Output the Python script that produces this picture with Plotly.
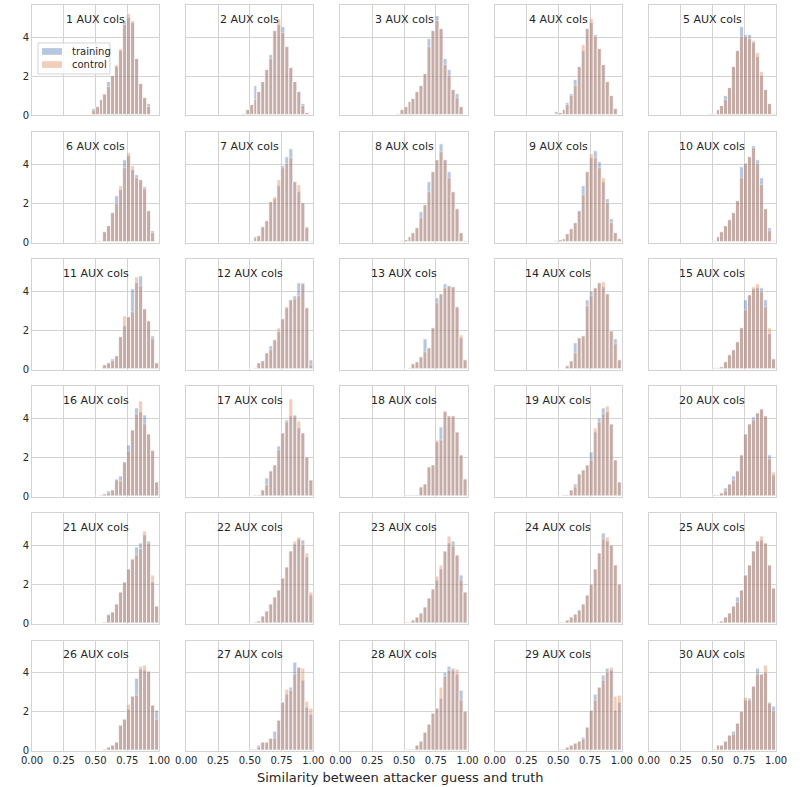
import numpy as np
import plotly.graph_objects as go
from plotly.subplots import make_subplots

# Histogram bins (density) shared by every panel: 20 bins of width 1/32 from 0.375 to 1.0
BIN_EDGES = np.linspace(0.375, 1.0, 21)

AUX_COLS = list(range(1, 31))

# Density per bin for the "training" split, one row per number of AUX columns
TRAINING = [
    [0, 0, 0.03, 0.35, 0.45, 0.8, 1.05, 1.7, 2.0, 2.5, 3.3, 4.8, 5.0, 4.7, 2.9, 1.6, 0.9, 0.6, 0, 0],
    [0, 0, 0.1, 0.3, 0.55, 1.5, 1.2, 1.7, 2.3, 3.1, 4.3, 4.6, 4.5, 3.5, 2.4, 1.7, 1.2, 0.6, 0.15, 0],
    [0, 0, 0.1, 0.3, 0.45, 0.7, 0.85, 1.2, 1.5, 2.1, 3.9, 4.3, 5.1, 4.4, 2.9, 2.3, 1.3, 1.1, 0.45, 0],
    [0, 0, 0, 0.2, 0.15, 0.3, 0.65, 1.1, 1.8, 2.5, 3.3, 4.4, 4.7, 4.1, 3.4, 2.6, 1.7, 1.0, 0.35, 0],
    [0, 0, 0.03, 0.05, 0.1, 0.3, 0.5, 1.0, 1.4, 2.5, 3.3, 4.5, 4.1, 4.1, 3.7, 3.0, 2.0, 1.3, 0.6, 0.1],
    [0, 0, 0, 0, 0.1, 0.1, 0.55, 0.85, 1.5, 2.35, 2.7, 4.2, 4.4, 3.7, 3.45, 3.2, 2.85, 1.6, 0.6, 0],
    [0, 0, 0, 0, 0.1, 0.3, 0.35, 0.8, 1.1, 2.05, 2.2, 2.9, 3.9, 4.35, 4.75, 3.1, 2.6, 2.0, 0.8, 0.1],
    [0, 0, 0, 0.05, 0.15, 0.3, 0.5, 0.75, 1.55, 1.9, 3.1, 3.6, 4.2, 5.05, 4.2, 3.6, 2.6, 1.7, 0.5, 0.1],
    [0, 0, 0, 0.05, 0.15, 0.2, 0.45, 0.7, 1.0, 1.6, 2.9, 3.6, 4.3, 4.65, 4.1, 3.1, 2.2, 1.2, 0.5, 0.2],
    [0, 0, 0, 0, 0.1, 0.3, 0.55, 0.85, 1.15, 1.5, 2.1, 3.85, 4.0, 4.35, 4.95, 4.2, 3.3, 1.7, 0.75, 0.1],
    [0, 0, 0, 0, 0, 0, 0.25, 0.35, 0.55, 0.7, 1.65, 2.2, 2.7, 4.1, 4.4, 4.75, 3.1, 2.5, 1.7, 0.35],
    [0, 0, 0, 0, 0, 0.05, 0.35, 0.45, 0.85, 1.2, 1.5, 1.9, 2.6, 3.15, 3.55, 3.75, 4.4, 4.4, 3.15, 0.5],
    [0, 0, 0, 0, 0, 0.1, 0.3, 0.4, 0.65, 1.55, 1.1, 2.1, 3.65, 3.85, 4.35, 4.25, 4.2, 3.2, 1.6, 0.5],
    [0, 0, 0, 0, 0, 0, 0.2, 0.45, 1.35, 1.6, 1.7, 3.55, 4.0, 4.15, 4.4, 4.2, 3.85, 1.95, 1.55, 0.5],
    [0, 0, 0, 0, 0.05, 0.05, 0.15, 0.4, 0.75, 1.0, 1.4, 2.1, 3.55, 3.8, 4.1, 4.15, 4.15, 3.55, 1.8, 0.55],
    [0, 0, 0, 0, 0.03, 0.05, 0.15, 0.3, 0.35, 0.85, 1.05, 1.75, 2.65, 3.4, 4.5, 4.3, 4.15, 3.2, 2.3, 0.75],
    [0, 0, 0, 0, 0, 0.1, 0.1, 0.35, 0.95, 1.3, 1.6, 2.6, 3.25, 3.9, 4.1, 4.15, 3.5, 3.25, 2.0, 0.85],
    [0, 0, 0, 0, 0.05, 0.05, 0.05, 0.05, 0.5, 0.65, 1.5, 1.6, 2.8, 3.55, 4.3, 4.1, 4.1, 3.3, 2.1, 0.9],
    [0, 0, 0, 0.02, 0.02, 0.05, 0.1, 0.35, 0.65, 1.15, 1.35, 1.6, 2.25, 3.3, 4.0, 4.5, 4.3, 3.7, 1.85, 0.75],
    [0, 0, 0.03, 0.03, 0.05, 0.05, 0.2, 0.45, 0.65, 1.05, 1.3, 2.1, 3.2, 3.7, 4.05, 4.25, 4.45, 4.1, 2.1, 1.1],
    [0, 0, 0, 0, 0, 0, 0.1, 0.5, 0.6, 1.0, 1.6, 2.1, 2.8, 3.3, 3.9, 4.1, 4.5, 4.2, 2.1, 0.9],
    [0, 0, 0, 0, 0, 0.05, 0.15, 0.4, 0.65, 1.0, 1.35, 1.7, 2.3, 2.9, 3.7, 4.05, 4.3, 4.25, 3.4, 1.45],
    [0, 0, 0, 0, 0.05, 0.1, 0.2, 0.35, 0.55, 0.85, 1.3, 1.75, 2.2, 2.8, 3.7, 4.1, 4.2, 3.5, 2.5, 1.6],
    [0, 0, 0, 0.03, 0.05, 0.1, 0.2, 0.35, 0.5, 0.7, 1.0, 1.45, 2.0, 2.8, 3.6, 4.6, 4.2, 4.0, 3.0, 2.0],
    [0, 0, 0, 0, 0, 0.05, 0.15, 0.35, 0.55, 0.9, 1.35, 1.7, 2.5, 3.0, 3.7, 4.2, 4.25, 4.1, 3.0, 1.8],
    [0, 0, 0, 0, 0, 0.02, 0.1, 0.2, 0.3, 0.45, 1.3, 1.6, 2.1, 2.8, 3.7, 4.15, 4.1, 4.05, 2.3, 2.05],
    [0, 0, 0, 0, 0.05, 0.1, 0.3, 0.45, 0.45, 0.65, 1.0, 1.55, 2.45, 2.9, 3.25, 4.5, 4.25, 3.6, 2.2, 1.85],
    [0, 0, 0, 0, 0.1, 0.05, 0.1, 0.3, 0.5, 0.95, 1.35, 1.9, 2.15, 2.7, 4.0, 4.3, 4.2, 3.9, 3.1, 2.0],
    [0, 0, 0.02, 0.02, 0.05, 0.1, 0.2, 0.3, 0.4, 0.5, 0.7, 1.2, 2.05, 2.9, 3.25, 3.85, 4.2, 4.1, 2.05, 2.45],
    [0, 0, 0, 0, 0.1, 0.3, 0.3, 0.5, 0.8, 1.0, 1.4, 2.0, 2.6, 2.7, 3.3, 4.2, 3.9, 4.0, 2.45, 2.25],
]

# Density per bin for the "control" split
CONTROL = [
    [0, 0, 0.05, 0.25, 0.45, 0.8, 1.1, 1.45, 2.0, 2.6, 3.4, 4.6, 5.2, 4.8, 2.9, 1.6, 0.9, 0.45, 0, 0],
    [0, 0, 0.1, 0.3, 0.55, 0.8, 1.2, 1.7, 2.3, 2.9, 4.3, 4.9, 4.2, 3.5, 2.4, 1.7, 1.2, 0.5, 0.15, 0],
    [0, 0, 0.1, 0.3, 0.45, 0.7, 0.85, 1.2, 1.5, 2.1, 3.5, 4.3, 4.8, 4.4, 2.6, 2.0, 1.3, 0.9, 0.45, 0],
    [0, 0, 0, 0.1, 0.15, 0.3, 0.55, 1.0, 1.5, 2.5, 3.6, 4.4, 4.9, 4.0, 3.4, 2.6, 1.7, 1.0, 0.35, 0],
    [0, 0, 0.03, 0.05, 0.1, 0.3, 0.5, 0.8, 1.4, 2.5, 3.3, 4.0, 4.0, 3.9, 3.8, 3.2, 2.2, 1.3, 0.6, 0.1],
    [0, 0, 0, 0, 0.1, 0.1, 0.55, 0.85, 1.5, 1.95, 2.9, 3.8, 4.55, 3.9, 3.3, 3.2, 2.75, 1.6, 0.5, 0],
    [0, 0, 0, 0, 0.1, 0.25, 0.35, 0.8, 1.1, 2.05, 2.3, 3.2, 3.8, 4.0, 4.3, 3.1, 2.95, 2.0, 0.75, 0.1],
    [0, 0, 0, 0.05, 0.15, 0.3, 0.5, 0.75, 1.25, 1.9, 2.6, 3.6, 4.2, 4.6, 4.2, 3.3, 2.6, 1.7, 0.5, 0.1],
    [0, 0, 0, 0.05, 0.15, 0.2, 0.45, 0.7, 1.0, 1.6, 2.4, 3.6, 4.5, 4.3, 3.8, 3.3, 2.0, 1.0, 0.5, 0.2],
    [0, 0, 0, 0, 0.1, 0.3, 0.55, 0.85, 1.15, 1.5, 2.1, 3.3, 4.05, 4.35, 4.8, 4.0, 2.95, 1.7, 0.6, 0.1],
    [0, 0, 0, 0, 0, 0, 0.25, 0.35, 0.45, 0.7, 1.65, 2.75, 2.7, 2.95, 4.7, 4.25, 3.1, 2.45, 1.55, 0.35],
    [0, 0, 0, 0, 0, 0.05, 0.35, 0.45, 0.85, 1.0, 1.5, 2.1, 2.6, 3.2, 3.55, 3.6, 3.75, 4.35, 3.15, 0.25],
    [0, 0, 0, 0, 0, 0.1, 0.3, 0.4, 0.65, 0.9, 1.1, 2.1, 3.4, 3.85, 4.15, 4.25, 4.2, 3.2, 1.75, 0.5],
    [0, 0, 0, 0, 0, 0, 0.2, 0.45, 0.85, 1.6, 1.7, 3.25, 3.75, 4.15, 4.4, 4.45, 3.85, 1.95, 1.3, 0.5],
    [0, 0, 0, 0, 0.05, 0.05, 0.15, 0.4, 0.75, 1.0, 1.4, 2.1, 3.05, 3.8, 4.2, 4.35, 3.95, 3.2, 2.1, 0.55],
    [0, 0, 0, 0, 0.03, 0.05, 0.15, 0.2, 0.35, 0.9, 0.8, 1.75, 2.3, 3.4, 4.2, 4.85, 3.7, 3.2, 2.35, 0.75],
    [0, 0, 0, 0, 0, 0.1, 0.1, 0.35, 0.6, 1.3, 1.6, 2.35, 3.25, 3.8, 5.0, 4.1, 3.85, 3.25, 2.0, 0.85],
    [0, 0, 0, 0, 0.05, 0.05, 0.05, 0.05, 0.5, 0.65, 1.5, 1.6, 2.9, 2.9, 4.35, 4.1, 4.1, 3.3, 2.1, 0.9],
    [0, 0, 0, 0.02, 0.02, 0.05, 0.1, 0.35, 0.5, 1.15, 1.35, 1.6, 1.85, 3.5, 3.8, 4.2, 4.6, 3.7, 1.85, 0.75],
    [0, 0, 0.03, 0.03, 0.05, 0.05, 0.2, 0.3, 0.65, 0.85, 1.3, 2.1, 3.2, 3.7, 3.9, 4.25, 4.45, 4.1, 1.9, 1.25],
    [0, 0, 0, 0, 0, 0, 0.1, 0.45, 0.6, 1.0, 1.6, 2.1, 2.8, 3.3, 3.5, 3.8, 4.7, 4.1, 2.5, 0.9],
    [0, 0, 0, 0, 0, 0.05, 0.15, 0.4, 0.65, 1.0, 1.35, 1.7, 2.3, 2.9, 3.7, 4.2, 4.4, 4.0, 3.6, 1.6],
    [0, 0, 0, 0, 0.05, 0.1, 0.2, 0.35, 0.55, 0.85, 1.3, 1.75, 2.4, 3.0, 3.7, 4.45, 3.95, 3.5, 2.2, 1.6],
    [0, 0, 0, 0.03, 0.05, 0.1, 0.2, 0.35, 0.5, 0.7, 1.0, 1.45, 2.0, 2.8, 3.6, 4.3, 4.4, 4.0, 3.0, 2.0],
    [0, 0, 0, 0, 0, 0.05, 0.15, 0.35, 0.55, 0.9, 1.1, 1.7, 2.5, 3.0, 3.7, 4.2, 4.45, 4.1, 3.0, 1.8],
    [0, 0, 0, 0, 0, 0.02, 0.05, 0.2, 0.3, 0.45, 1.3, 1.6, 2.35, 2.8, 2.85, 4.3, 4.35, 4.05, 2.3, 1.6],
    [0, 0, 0, 0, 0.05, 0.1, 0.2, 0.45, 0.45, 0.65, 0.65, 1.55, 2.45, 3.15, 3.1, 3.9, 4.25, 4.2, 2.55, 2.15],
    [0, 0, 0, 0, 0.02, 0.05, 0.1, 0.3, 0.5, 0.95, 1.35, 1.9, 2.15, 3.25, 3.8, 4.1, 4.1, 4.15, 2.6, 2.0],
    [0, 0, 0.02, 0.02, 0.05, 0.1, 0.2, 0.3, 0.4, 0.5, 0.6, 1.2, 2.05, 2.6, 3.25, 3.6, 4.0, 4.25, 2.8, 2.85],
    [0, 0, 0, 0, 0.1, 0.3, 0.3, 0.5, 0.8, 0.85, 1.4, 2.0, 2.75, 2.6, 3.3, 3.9, 3.9, 4.35, 2.4, 2.0],
]

SERIES_NAMES = ["training", "control"]

X_TICKS = [0.0, 0.25, 0.5, 0.75, 1.0]
X_TICK_TEXT = ["0.00", "0.25", "0.50", "0.75", "1.00"]
Y_TICKS = [0, 2, 4]

BLUE = "#4C72B0"
ORANGE = "#DD8452"
GRID = "#d3d3d3"
TEXT = "#262626"
FONT = "DejaVu Sans"
ALPHA = 0.4

N_ROWS, N_COLS = 6, 5

fig = make_subplots(
    rows=N_ROWS, cols=N_COLS,
    shared_xaxes=True, shared_yaxes=True,
    horizontal_spacing=0.0365, vertical_spacing=0.0223,
)

centers = (BIN_EDGES[:-1] + BIN_EDGES[1:]) / 2
widths = np.diff(BIN_EDGES)

for k, n_aux in enumerate(AUX_COLS):
    row, col = k // N_COLS + 1, k % N_COLS + 1
    for name, values, color in zip(SERIES_NAMES, (TRAINING[k], CONTROL[k]), (BLUE, ORANGE)):
        fig.add_trace(
            go.Bar(
                x=centers, y=values, width=widths, name=name,
                marker=dict(color=color, line=dict(color="white", width=0.8)),
                opacity=ALPHA, legendgroup=name, showlegend=False,
            ),
            row=row, col=col,
        )
    suffix = "" if k == 0 else str(k + 1)
    fig.add_annotation(
        text=f"{n_aux} AUX cols",
        xref=f"x{suffix} domain", yref=f"y{suffix} domain",
        x=0.5, y=0.87, xanchor="center", yanchor="middle",
        showarrow=False, font=dict(family=FONT, size=11, color=TEXT),
    )

# Compact legend box drawn inside the first panel (matplotlib-style wide patches)
LEG_X0, LEG_X1, LEG_Y0, LEG_Y1 = 0.0081, 0.1048, 0.9075, 0.9491
fig.add_shape(
    type="rect", xref="paper", yref="paper",
    x0=LEG_X0, x1=LEG_X1, y0=LEG_Y0, y1=LEG_Y1,
    fillcolor="rgba(255,255,255,0.85)", line=dict(color=GRID, width=1), layer="above",
)
for i, (name, color) in enumerate(zip(SERIES_NAMES, (BLUE, ORANGE))):
    y_mid = 0.9377 - i * 0.0175
    fig.add_shape(
        type="rect", xref="paper", yref="paper",
        x0=0.0134, x1=0.0403, y0=y_mid - 0.0045, y1=y_mid + 0.0045,
        fillcolor=color, opacity=ALPHA, line=dict(width=0), layer="above",
    )
    fig.add_annotation(
        text=name, xref="paper", yref="paper", x=0.051, y=y_mid,
        xanchor="left", yanchor="middle", showarrow=False,
        font=dict(family=FONT, size=10, color=TEXT),
    )

fig.add_annotation(
    text="Similarity between attacker guess and truth",
    xref="paper", yref="paper", x=0.495, y=-0.036,
    xanchor="center", yanchor="middle", showarrow=False,
    font=dict(family=FONT, size=13, color=TEXT),
)

fig.update_xaxes(
    range=[0, 1], tickvals=X_TICKS, ticktext=X_TICK_TEXT,
    showgrid=True, gridcolor=GRID, gridwidth=1,
    showline=True, mirror=True, linecolor=GRID, linewidth=1,
    zeroline=False, ticks="", tickfont=dict(family=FONT, size=10, color=TEXT),
)
fig.update_yaxes(
    range=[0, 5.64], tickvals=Y_TICKS,
    showgrid=True, gridcolor=GRID, gridwidth=1,
    showline=True, mirror=True, linecolor=GRID, linewidth=1,
    zeroline=False, ticks="", tickfont=dict(family=FONT, size=10, color=TEXT),
)

fig.update_layout(
    width=800, height=787,
    margin=dict(l=32, r=24, t=5, b=36),
    barmode="overlay", bargap=0,
    plot_bgcolor="white", paper_bgcolor="white",
    font=dict(family=FONT, color=TEXT),
    showlegend=False,
)

fig.write_html("out.html")
